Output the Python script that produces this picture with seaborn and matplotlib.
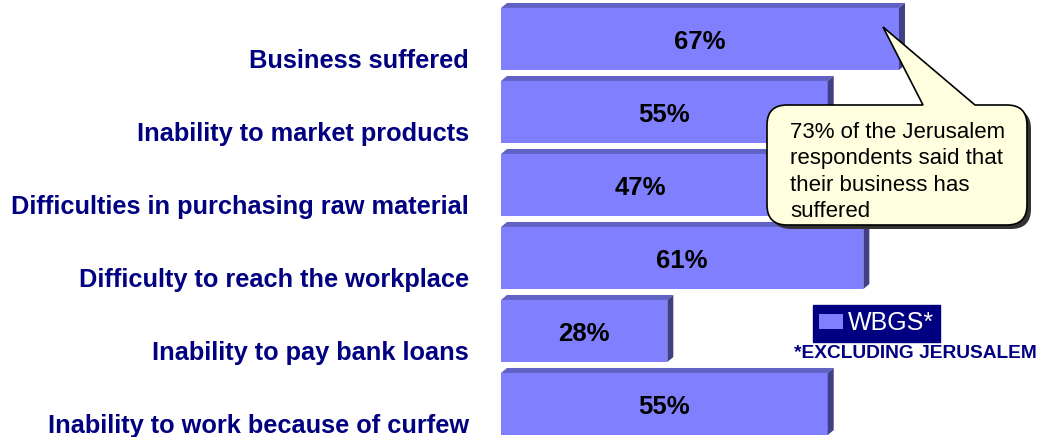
import matplotlib
matplotlib.use("Agg")
import matplotlib.pyplot as plt
from matplotlib.patches import Polygon, PathPatch
from matplotlib.path import Path
import seaborn as sns
import pandas as pd

# Survey results (share of respondents, %)
categories = [
    "Business suffered",
    "Inability to market products",
    "Difficulties in purchasing raw material",
    "Difficulty to reach the workplace",
    "Inability to pay bank loans",
    "Inability to work because of curfew",
]
values = [67, 55, 47, 61, 28, 55]
series_name = "WBGS*"
footnote = "*EXCLUDING JERUSALEM"
callout_text = "73% of the Jerusalem\nrespondents said that\ntheir business has\nsuffered"

BAR = "#8080FF"
TOP = "#6262C4"
SIDE = "#404084"
NAVY = "#000080"

W, H, DPI = 1038, 437, 100

sns.set_theme(style="white")
plt.rcParams["font.family"] = ["Liberation Sans", "DejaVu Sans"]

fig = plt.figure(figsize=(W / DPI, H / DPI), dpi=DPI)
px_per_unit_x = 5.94
px_per_cat = 73.0
ax_left, ax_top = 501, 39 - px_per_cat / 2
xmax = 90
ax_w = xmax * px_per_unit_x
ax_h = 6 * px_per_cat
ax = fig.add_axes([ax_left / W, (H - ax_top - ax_h) / H, ax_w / W, ax_h / H])

df = pd.DataFrame({"category": categories, "value": values})
sns.barplot(data=df, y="category", x="value", orient="h", color=BAR,
            saturation=1, width=0.85, ax=ax, label=series_name, linewidth=0)

ax.set_xlim(0, xmax)
ax.set_ylim(5.5, -0.5)
for s in ax.spines.values():
    s.set_visible(False)
ax.set_xticks([])
ax.set_xlabel("")
ax.set_ylabel("")

# Category labels sit a little below each bar's centre line
ax.set_yticks([i + 0.27 for i in range(len(categories))], categories)
ax.tick_params(axis="y", length=0, pad=23)
for lab in ax.get_yticklabels():
    lab.set_fontsize(18.3)
    lab.set_fontweight("bold")
    lab.set_color(NAVY)

# 3D faces (top and right side) for each bar
dx = 6 / px_per_unit_x
dy = 5 / px_per_cat
bars = list(ax.containers[0])
for p in bars:
    x0, x1 = p.get_x(), p.get_x() + p.get_width()
    ya, yb = p.get_y(), p.get_y() + p.get_height()
    ytop, ybot = min(ya, yb), max(ya, yb)
    ax.add_patch(Polygon([(x0, ytop), (x1, ytop), (x1 + dx, ytop - dy), (x0 + dx, ytop - dy)],
                         closed=True, fc=TOP, ec="none", clip_on=False, zorder=3))
    ax.add_patch(Polygon([(x1, ytop), (x1 + dx, ytop - dy), (x1 + dx, ybot - dy), (x1, ybot)],
                         closed=True, fc=SIDE, ec="none", clip_on=False, zorder=3))

value_labels = ax.bar_label(ax.containers[0], labels=[f"{v}%" for v in values],
                            label_type="center", fontsize=18.5, fontweight="bold",
                            color="black")
for t in value_labels:
    t.xyann = (0, -2.2)

# Legend
leg = ax.legend(loc="upper left", bbox_to_anchor=(813 / W, 1 - 305 / H),
                bbox_transform=fig.transFigure, borderaxespad=0, frameon=True,
                fancybox=False, facecolor=NAVY, edgecolor=NAVY, framealpha=1,
                fontsize=18, handlelength=0.95, handleheight=0.6, handletextpad=0.2,
                borderpad=0.25)
for t in leg.get_texts():
    t.set_color("white")
fig.text(1037 / W, 1 - 353 / H, footnote, ha="right", va="center",
         fontsize=13.8, fontweight="bold", color=NAVY)

# Speech-bubble callout
def fp(x, y):
    return (x / W, 1 - y / H)

L, R, T, B, r = 767, 1027, 105, 225, 20
tx0, tx1, tip = 923, 975, (883, 27)
pts = [
    (Path.MOVETO, (L + r, T)), (Path.LINETO, (tx0, T)), (Path.LINETO, tip),
    (Path.LINETO, (tx1, T)), (Path.LINETO, (R - r, T)),
    (Path.CURVE3, (R, T)), (Path.CURVE3, (R, T + r)),
    (Path.LINETO, (R, B - r)),
    (Path.CURVE3, (R, B)), (Path.CURVE3, (R - r, B)),
    (Path.LINETO, (L + r, B)),
    (Path.CURVE3, (L, B)), (Path.CURVE3, (L, B - r)),
    (Path.LINETO, (L, T + r)),
    (Path.CURVE3, (L, T)), (Path.CURVE3, (L + r, T)),
    (Path.CLOSEPOLY, (L + r, T)),
]
codes = [c for c, _ in pts]
shadow = Path([fp(x + 4, y + 4) for _, (x, y) in pts], codes)
bubble = Path([fp(x, y) for _, (x, y) in pts], codes)
fig.patches.append(PathPatch(shadow, transform=fig.transFigure, fc="#333333", ec="none", zorder=5))
fig.patches.append(PathPatch(bubble, transform=fig.transFigure, fc="#FFFFE0", ec="black",
                             lw=1.2, zorder=6))
fig.text(790 / W, 1 - 122 / H, callout_text, ha="left", va="top", fontsize=16,
         color="black", linespacing=1.33, zorder=7)

fig.savefig("out.png", dpi=DPI)
